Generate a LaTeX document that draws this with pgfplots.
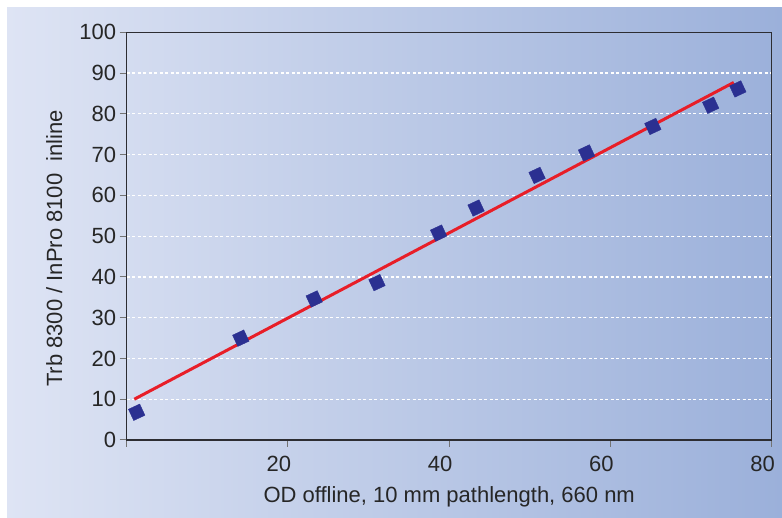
\documentclass[border=0pt]{standalone}
\usepackage{fontspec}
\setmainfont{Liberation Sans}
\usepackage{pgfplots}
\pgfplotsset{compat=1.18}
\definecolor{bgleft}{RGB}{222,228,244}
\definecolor{bgright}{RGB}{155,176,218}
\definecolor{ptblue}{RGB}{43,48,145}
\definecolor{fitred}{RGB}{232,30,40}
\definecolor{axcol}{RGB}{45,45,50}
\begin{document}
\begin{tikzpicture}[font=\fontsize{22}{26}\selectfont]
\path[use as bounding box] (0pt,0pt) rectangle (782pt,518pt);
\shade[left color=bgleft,right color=bgright] (7pt,0pt) rectangle (782pt,510pt);
\begin{axis}[
  at={(126.7pt,78pt)}, anchor=south west,
  scale only axis,
  width=645pt, height=407.7pt,
  xmin=0, xmax=80, ymin=0, ymax=100,
  xtick={0,20,40,60,80}, xticklabels={,20,40,60,80},
  ytick={0,10,...,100},
  /pgf/number format/assume math mode=true,
  tick pos=left, tick align=outside,
  major tick length=7pt,
  tick style={color=gray!90!black, line width=1pt},
  axis line style={color=axcol, line width=1.3pt},
  ymajorgrids,
  grid style={white, line width=1.2pt, dash pattern=on 3pt off 2.5pt},
  every axis x label/.style={at={(axis description cs:0.5,-0.1545)}, anchor=base},
  every axis y label/.style={at={(axis description cs:-0.1003,0.47)}, rotate=90, anchor=base},
  xlabel={OD offline, 10 mm pathlength, 660 nm},
  ylabel={Trb 8300 / InPro 8100\ \ inline},
  label style={color=black!85},
  tick label style={color=black!85},
  xticklabel style={yshift=-6pt, xshift=-9pt},
  clip=false,
]
\addplot[color=fitred, line width=3pt] coordinates {(0.94,10.0) (75.3,87.7)};
\addplot[only marks, mark=square*, mark size=6.2pt, color=ptblue,
  mark options={rotate=25, fill=ptblue, draw=ptblue}] coordinates {
  (1.24,6.8) (14.15,24.97) (23.26,34.6) (31.04,38.6) (38.69,50.75)
  (43.33,56.9) (50.9,64.9) (57.03,70.4) (65.26,76.9) (72.43,82.1) (75.8,86.1)
};
\end{axis}
\end{tikzpicture}
\end{document}
